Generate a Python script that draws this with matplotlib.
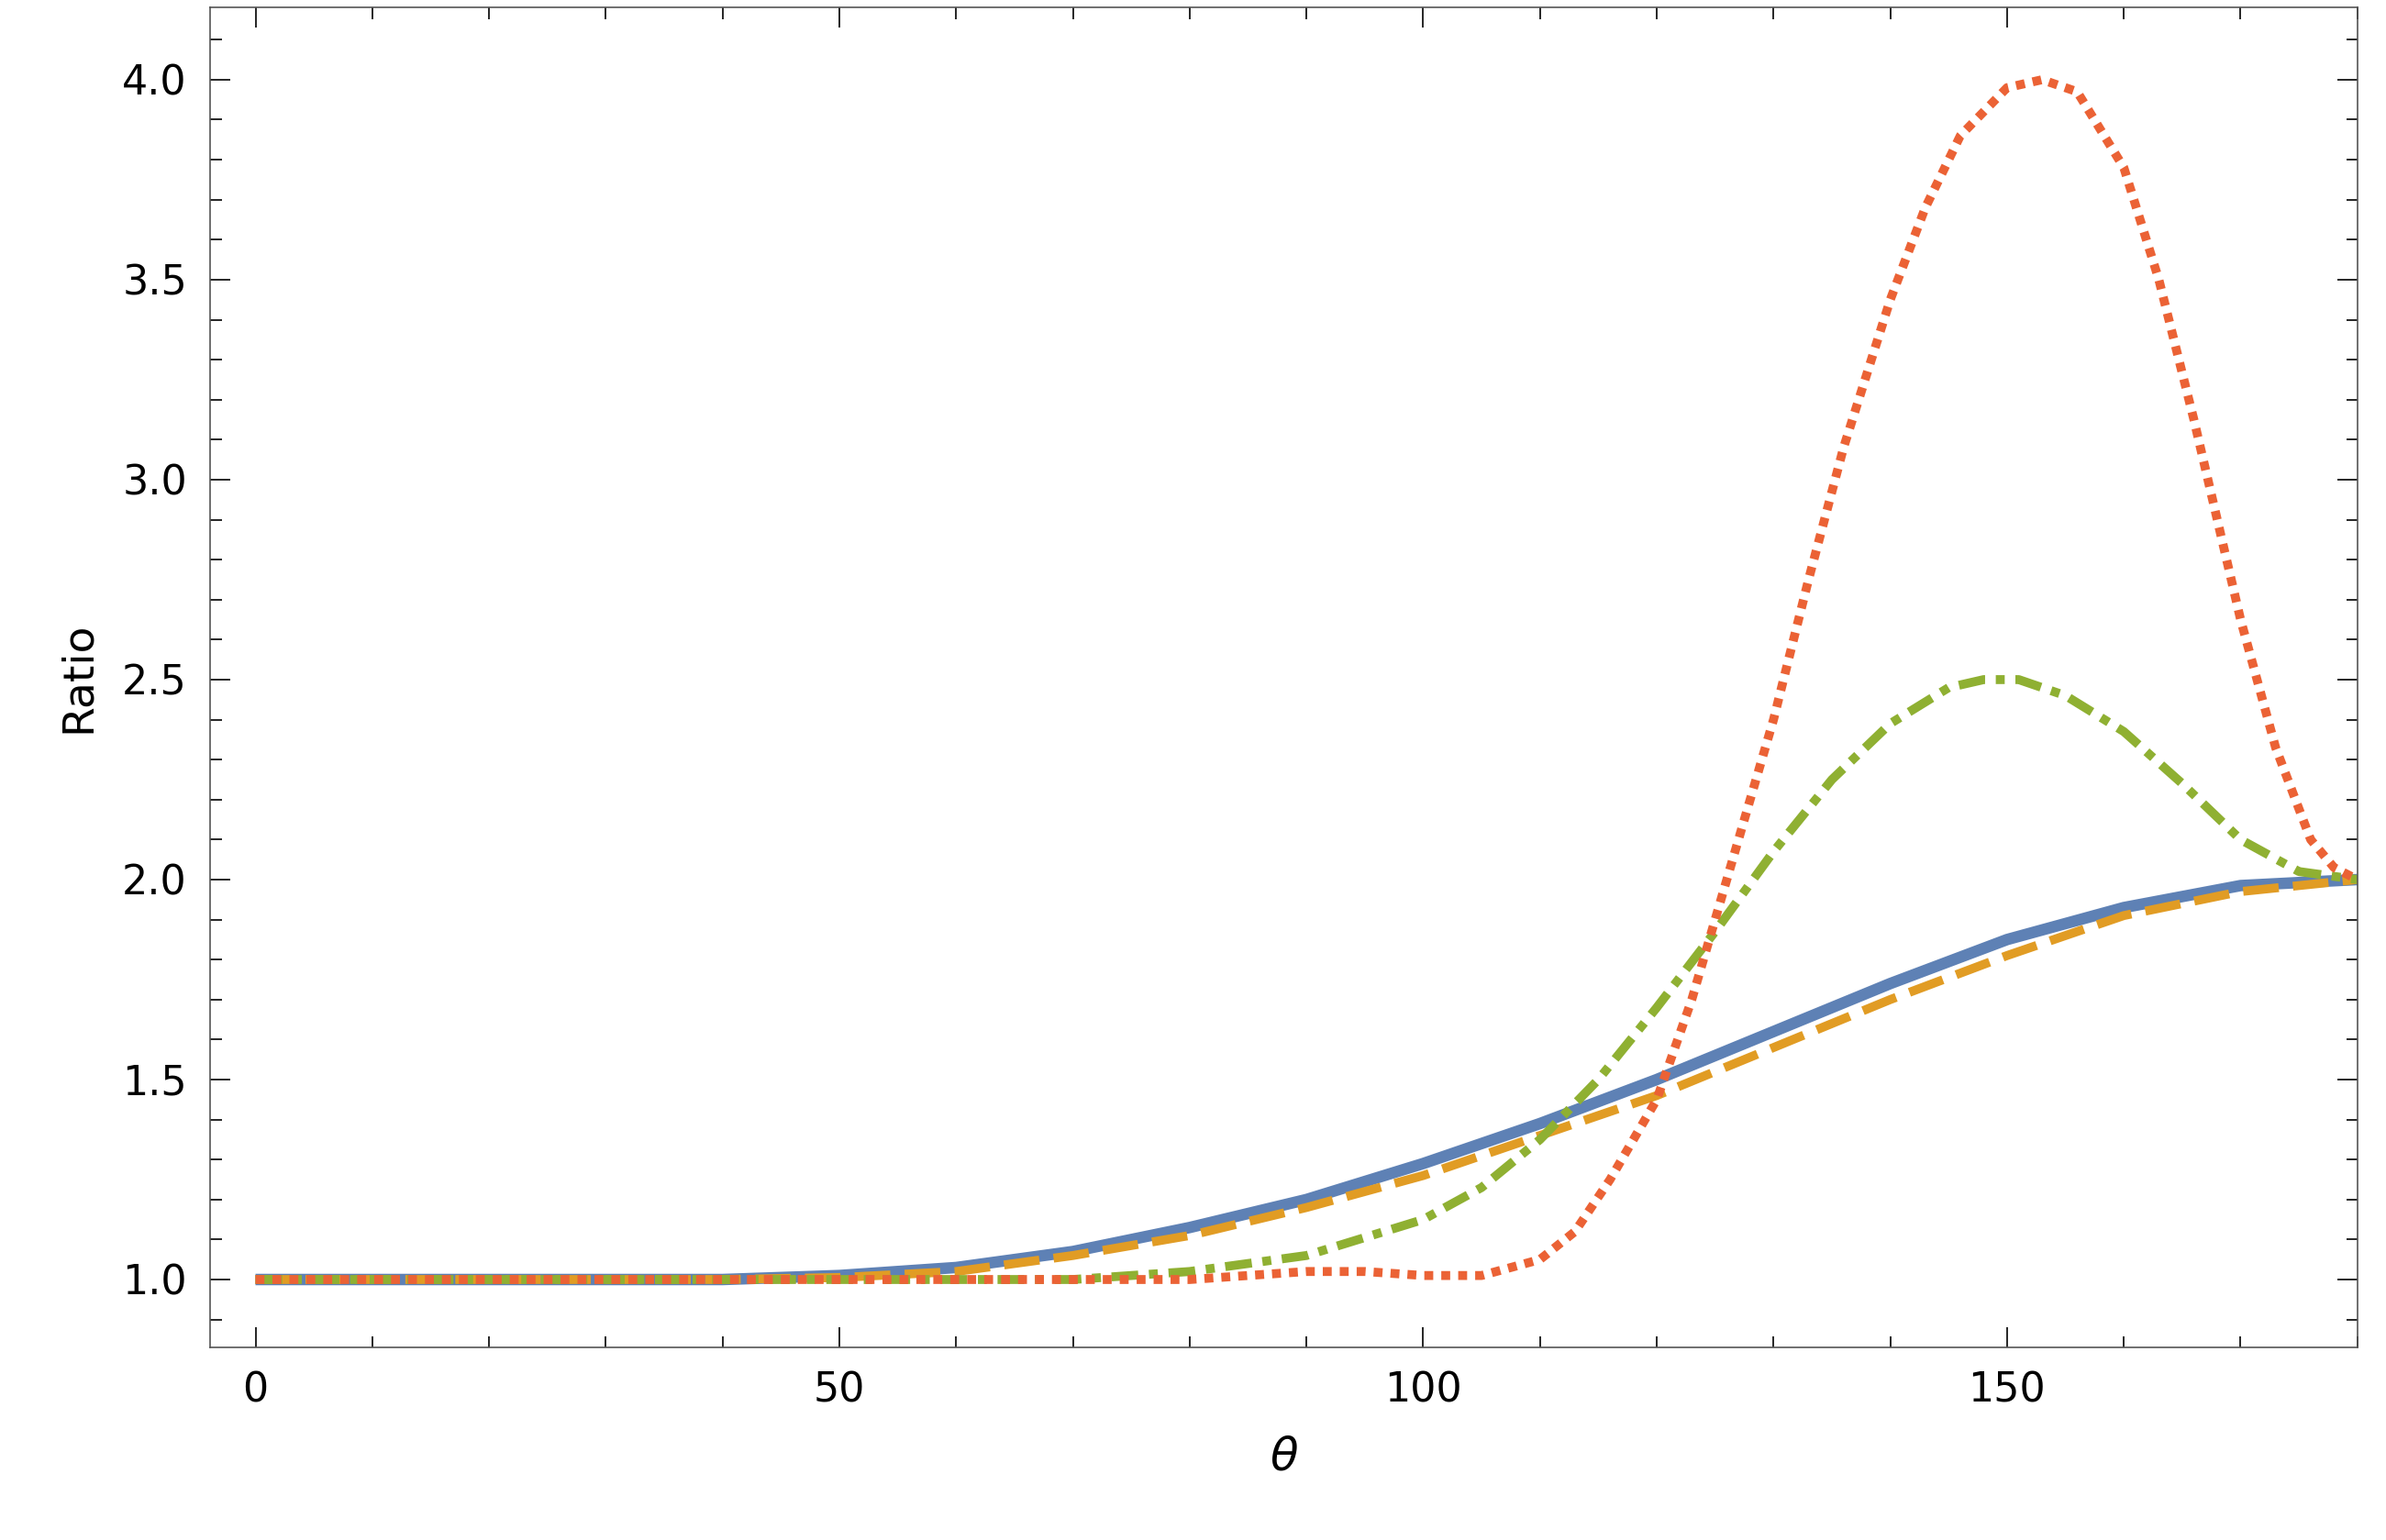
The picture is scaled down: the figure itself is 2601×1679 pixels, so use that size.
import numpy as np
import matplotlib.pyplot as plt
from matplotlib.ticker import MultipleLocator

# values
blue_t = [0, 20, 40, 50, 60, 70, 80, 90, 100, 110, 120, 130, 140, 150, 160, 170, 180]
blue_y = [1.0, 1.0, 1.0, 1.01, 1.03, 1.07, 1.13, 1.2, 1.29, 1.39, 1.5, 1.62, 1.74, 1.85, 1.93, 1.985, 2.0]

orange_t = [0, 20, 40, 50, 60, 70, 80, 90, 100, 110, 120, 130, 140, 150, 160, 170, 180]
orange_y = [1.0, 1.0, 1.0, 1.005, 1.02, 1.06, 1.11, 1.18, 1.26, 1.36, 1.46, 1.58, 1.7, 1.81, 1.91, 1.97, 2.0]

green_t = [0, 40, 70, 80, 90, 100, 105, 110, 115, 120, 125, 130, 135, 140, 145, 148, 151, 155, 160, 165, 170, 175, 180]
green_y = [1.0, 1.0, 1.0, 1.02, 1.06, 1.15, 1.23, 1.35, 1.5, 1.68, 1.87, 2.07, 2.25, 2.39, 2.48, 2.5, 2.5, 2.46, 2.37, 2.24, 2.1, 2.02, 2.0]

red_t = [0, 40, 80, 90, 95, 100, 105, 110, 113, 116, 120, 123, 126, 130, 133, 136, 140, 143, 146, 150, 153, 156, 160, 163, 166, 170, 173, 176, 178, 180]
red_y = [1.0, 1.0, 1.0, 1.02, 1.02, 1.01, 1.01, 1.05, 1.12, 1.25, 1.45, 1.7, 2.0, 2.4, 2.75, 3.08, 3.45, 3.68, 3.86, 3.98, 4.0, 3.97, 3.78, 3.5, 3.15, 2.65, 2.33, 2.1, 2.03, 2.0]

fig = plt.figure(figsize=(26.01, 16.79), dpi=100)
ax = fig.add_axes([0.088, 0.125, 0.9, 0.87])

ax.plot(blue_t, blue_y, color='#5e81b5', lw=9, solid_capstyle='butt')
ax.plot(orange_t, orange_y, color='#e19c24', lw=7, dashes=(4, 1.6))
ax.plot(green_t, green_y, color='#8fb032', lw=7, dashes=(3, 1.2, 1, 1.2))
ax.plot(red_t, red_y, color='#eb6235', lw=7, dashes=(1, 0.9))

ax.set_xlim(-3.9, 180)
ax.set_ylim(0.83, 4.18)
ax.xaxis.set_major_locator(MultipleLocator(50))
ax.xaxis.set_minor_locator(MultipleLocator(10))
ax.yaxis.set_major_locator(MultipleLocator(0.5))
ax.yaxis.set_minor_locator(MultipleLocator(0.1))
ax.yaxis.set_major_formatter(plt.FormatStrFormatter('%.1f'))
ax.tick_params(which='both', direction='in', top=True, right=True, labelsize=32, width=1.2)
ax.tick_params(which='major', length=16, pad=18)
ax.tick_params(which='minor', length=9)
for s in ax.spines.values():
    s.set_color('#555555')
    s.set_linewidth(1.2)
ax.set_xlabel(r'$\theta$', fontsize=36, labelpad=20)
ax.set_ylabel('Ratio', fontsize=34, labelpad=18)

fig.savefig('out.png', dpi=100)
